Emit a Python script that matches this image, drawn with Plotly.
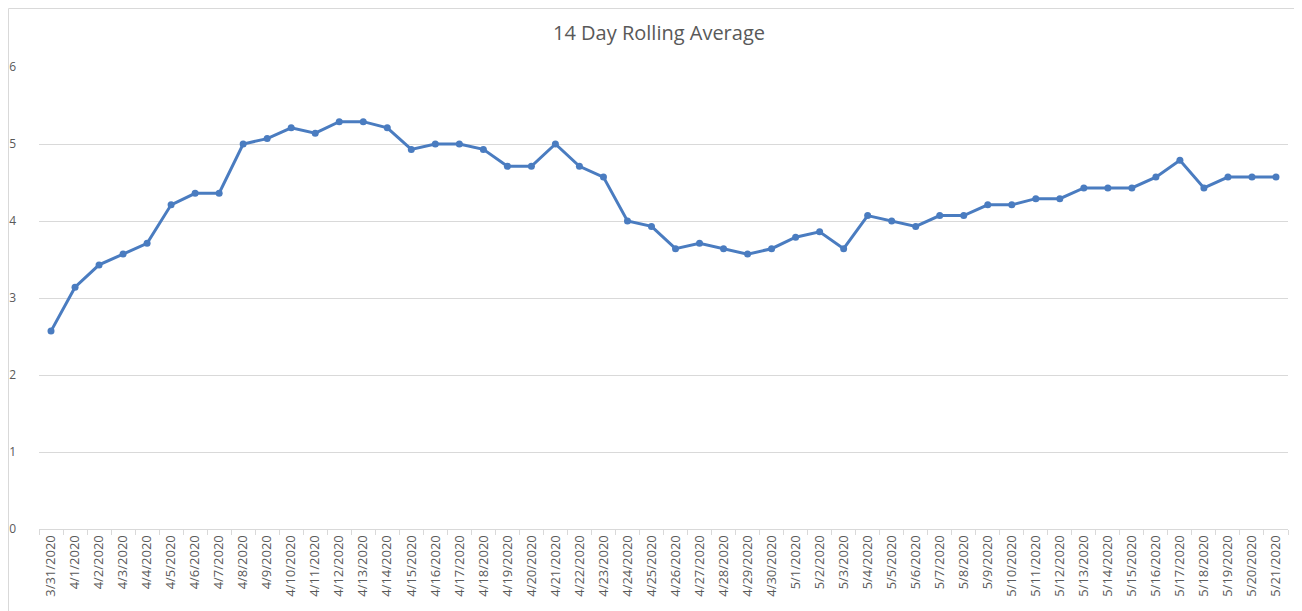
import plotly.graph_objects as go

dates = ["3/31/2020"] + [f"4/{d}/2020" for d in range(1, 31)] + [f"5/{d}/2020" for d in range(1, 22)]
values = [2.57, 3.14, 3.43, 3.57, 3.71, 4.21, 4.36, 4.36, 5.00, 5.07,
          5.21, 5.14, 5.29, 5.29, 5.21, 4.93, 5.00, 5.00, 4.93, 4.71,
          4.71, 5.00, 4.71, 4.57, 4.00, 3.93, 3.64, 3.71, 3.64, 3.57,
          3.64, 3.79, 3.86, 3.64, 4.07, 4.00, 3.93, 4.07, 4.07, 4.21,
          4.21, 4.29, 4.29, 4.43, 4.43, 4.43, 4.57, 4.79, 4.43, 4.57,
          4.57, 4.57]
y_ticks = [0, 1, 2, 3, 4, 5, 6]
title = "14 Day Rolling Average"

fig = go.Figure(go.Scatter(
    x=dates, y=values, mode="lines+markers",
    line=dict(color="#4a7cc0", width=3),
    marker=dict(color="#4a7cc0", size=7),
))

# light chart-area border (top and left edges, as in the Excel export)
border = dict(color="#d9d9d9", width=1)
fig.add_shape(type="line", xref="paper", yref="paper",
              x0=-0.0244, x1=-0.0244, y0=1.1266, y1=-0.19, line=border)
fig.add_shape(type="line", xref="paper", yref="paper",
              x0=-0.0244, x1=1.02, y0=1.1266, y1=1.1266, line=border)

fig.update_layout(
    width=1302, height=611,
    margin=dict(l=31, r=22, t=59, b=90, autoexpand=False),
    paper_bgcolor="white", plot_bgcolor="white",
    title=dict(text=title, x=0.5, xanchor="center", y=0.959, yanchor="middle",
               font=dict(family="Open Sans, Arial, sans-serif", size=20, color="#595959")),
    showlegend=False,
    font=dict(family="Open Sans, Arial, sans-serif", color="#595959"),
)
fig.update_xaxes(
    type="category", tickangle=-90, tickfont=dict(size=13, color="#595959"),
    showgrid=False, showline=True, linecolor="#d9d9d9", linewidth=1,
    ticks="outside", tickson="boundaries", ticklen=5, tickcolor="#d9d9d9",
    range=[-0.5, len(dates) - 0.5], automargin=False,
)
fig.update_yaxes(
    range=[0, 6], tickvals=y_ticks, tickfont=dict(size=12, color="#595959"),
    showgrid=True, gridcolor="#d9d9d9", gridwidth=1, zeroline=False,
    ticklabelstandoff=22, automargin=False,
)

fig.write_html("out.html")
